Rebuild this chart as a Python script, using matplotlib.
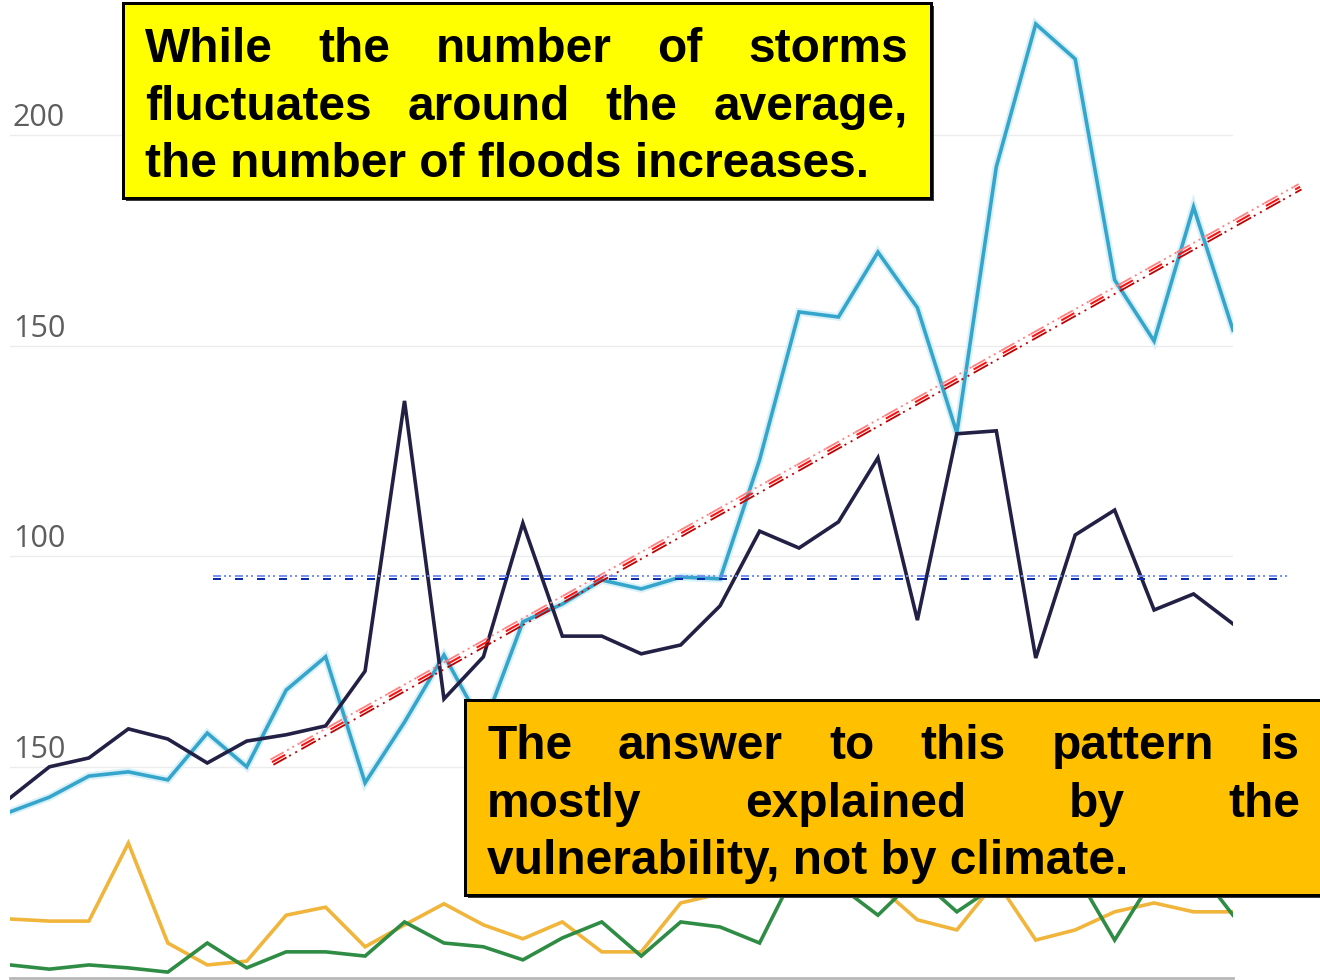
import numpy as np
import matplotlib
matplotlib.use("Agg")
import matplotlib.pyplot as plt
from matplotlib.patches import Rectangle
from matplotlib.transforms import offset_copy
import matplotlib.patheffects as pe

# ---------------- data ----------------
years = np.arange(1980, 2012)
floods = [39.4, 42.9, 47.9, 48.9, 47.0, 58.1, 50.1, 68.3, 76.2, 46.3, 60.7, 76.6,
          59.5, 84.5, 88.7, 94.4, 92.3, 95.1, 94.7, 122.9, 158.0, 156.8, 172.2, 159.0,
          129.3, 192.4, 226.3, 218.0, 165.6, 151.1, 182.9, 153.7]
storms = [42.7, 50.1, 52.2, 59.1, 56.7, 51.0, 56.2, 57.7, 59.8, 72.8, 136.9, 66.2,
          76.2, 107.9, 81.1, 81.1, 76.9, 79.0, 88.3, 106.0, 102.0, 108.2, 123.4, 84.9,
          129.1, 129.8, 75.9, 105.1, 111.0, 87.3, 91.1, 84.0]
series_orange = [14.0, 13.5, 13.5, 32.0, 8.3, 3.1, 4.0, 14.9, 16.8, 7.4, 12.6, 17.6,
                 12.6, 9.3, 13.3, 6.2, 6.2, 17.8, 20.0, 21.0, 22.0, 21.0, 22.0, 13.8,
                 11.4, 23.0, 9.0, 11.4, 15.7, 17.8, 15.7, 15.7]
series_green = [3.1, 2.1, 3.1, 2.4, 1.4, 8.3, 2.4, 6.2, 6.2, 5.2, 13.3, 8.3,
                7.4, 4.3, 9.5, 13.3, 5.2, 13.3, 12.1, 8.3, 27.0, 22.0, 14.9, 24.0,
                15.7, 22.0, 24.0, 25.0, 9.0, 24.0, 27.0, 14.9]

tick_values = [50, 100, 150, 200]
tick_labels = ["150", "100", "150", "200"]

trend_x = [1986.64, 2012.70]
trend_y = [51.2, 187.7]
avg_x = [1985.15, 2012.45]
avg_y = 95.0

box1_lines = ["While the number of storms",
              "fluctuates around the average,",
              "the number of floods increases."]
box2_lines = ["The answer to this pattern is",
              "mostly explained by the",
              "vulnerability, not by climate."]

# ---------------- figure ----------------
W, H = 1320, 980
DPI = 100
plt.rcParams['lines.scale_dashes'] = False
fig = plt.figure(figsize=(W / DPI, H / DPI), dpi=DPI)
fig.patch.set_facecolor("white")

ax = fig.add_axes([10 / W, 2 / H, 1223 / W, 978 / H])
ax.set_xlim(years[0], years[-1])
ax.set_ylim(0, 232.0)
ax.set_facecolor("none")
for s in ["top", "right", "left"]:
    ax.spines[s].set_visible(False)
ax.spines["bottom"].set_color("#b8b8b8")
ax.spines["bottom"].set_linewidth(2.0)
ax.set_xticks([])
ax.set_yticks([])

for v, lab in zip(tick_values, tick_labels):
    ax.axhline(v, color="#ececec", lw=1.0, zorder=0)
    ax.annotate(lab, xy=(0, v), xycoords=ax.get_yaxis_transform(),
                xytext=(3, 2), textcoords="offset pixels",
                ha="left", va="bottom", fontsize=22, color="#5e5e5e",
                family=["Liberation Sans Narrow", "Open Sans", "DejaVu Sans"])

lw = 2.6
ax.plot(years, floods, color="#35a5cc", lw=lw, zorder=3, solid_joinstyle="miter",
        path_effects=[pe.Stroke(linewidth=5.5, foreground="#d8f0f8"), pe.Normal()])
ax.plot(years, storms, color="#222045", lw=lw, zorder=4, solid_joinstyle="miter")
ax.plot(years, series_orange, color="#f0b53a", lw=lw, zorder=3, solid_joinstyle="miter")
ax.plot(years, series_green, color="#2f8c45", lw=lw, zorder=3.5, solid_joinstyle="miter")


def px2pt(p):
    return p * 72.0 / DPI


def compound_line(xs, ys, specs, perp_dir):
    # specs: list of (offset_px, color, lw_px, dashes_px)
    for off, color, lwp, dashes in specs:
        tr = offset_copy(ax.transData, fig=fig, x=perp_dir[0] * off,
                         y=perp_dir[1] * off, units="dots")
        ax.plot(xs, ys, color=color, lw=px2pt(lwp), transform=tr, zorder=6,
                clip_on=False, solid_capstyle="butt", dash_capstyle="butt",
                linestyle=(0, [px2pt(d) for d in dashes]))


fig.canvas.draw()
p0 = ax.transData.transform((trend_x[0], trend_y[0]))
p1 = ax.transData.transform((trend_x[1], trend_y[1]))
d = p1 - p0
d = d / np.hypot(*d)
perp = np.array([-d[1], d[0]])
compound_line(trend_x, trend_y, [
    (3.0, "#ff8080", 1.8, [15, 4, 2, 4, 2, 4, 2, 0.5]),
    (0.0, "#ff1010", 2.0, [15, 18.5]),
    (-3.0, "#c00000", 1.8, [15, 3, 2, 5, 2, 5, 1.5, 0.0001]),
], perp)

compound_line(avg_x, [avg_y, avg_y], [
    (1.8, "#6a88f5", 1.8, [8, 3, 2, 3, 2, 4]),
    (-1.8, "#0a2aa8", 2.0, [8, 14]),
], np.array([0.0, 1.0]))


# ---------------- text boxes ----------------
def add_box(x0, y0, x1, y1, face):
    shadow = Rectangle((x0 / W + 3 / W, 1 - (y1 + 3) / H), (x1 - x0) / W, (y1 - y0) / H,
                       transform=fig.transFigure, facecolor="#3a3a3a", edgecolor="none",
                       zorder=10)
    box = Rectangle((x0 / W, 1 - y1 / H), (x1 - x0) / W, (y1 - y0) / H,
                    transform=fig.transFigure, facecolor=face, edgecolor="black",
                    lw=px2pt(3), zorder=11)
    fig.add_artist(shadow)
    fig.add_artist(box)


FONT = dict(family=["Liberation Sans", "DejaVu Sans"], weight="bold",
            fontsize=34.5, color="black")


def add_justified(lines, left, right, baselines, justify_flags):
    renderer = fig.canvas.get_renderer()
    for line, base, just in zip(lines, baselines, justify_flags):
        yb = 1 - base / H
        if not just:
            fig.text(left / W, yb, line, ha="left", va="baseline", zorder=12, **FONT)
            continue
        words = line.split()
        texts = [fig.text(0, yb, w_, ha="left", va="baseline", zorder=12, **FONT)
                 for w_ in words]
        widths = [t.get_window_extent(renderer).width for t in texts]
        gap = (right - left - sum(widths)) / (len(words) - 1)
        x = left
        for t, wd in zip(texts, widths):
            t.set_x(x / W)
            x += wd + gap


add_box(123, 3, 931, 198, "#ffff00")
add_justified(box1_lines, 145, 908, [62, 120, 177], [True, True, False])

add_box(465, 700, 1324, 895, "#ffc000")
add_justified(box2_lines, 487, 1300, [759, 817, 874], [True, True, False])

fig.savefig("out.png", dpi=DPI)
